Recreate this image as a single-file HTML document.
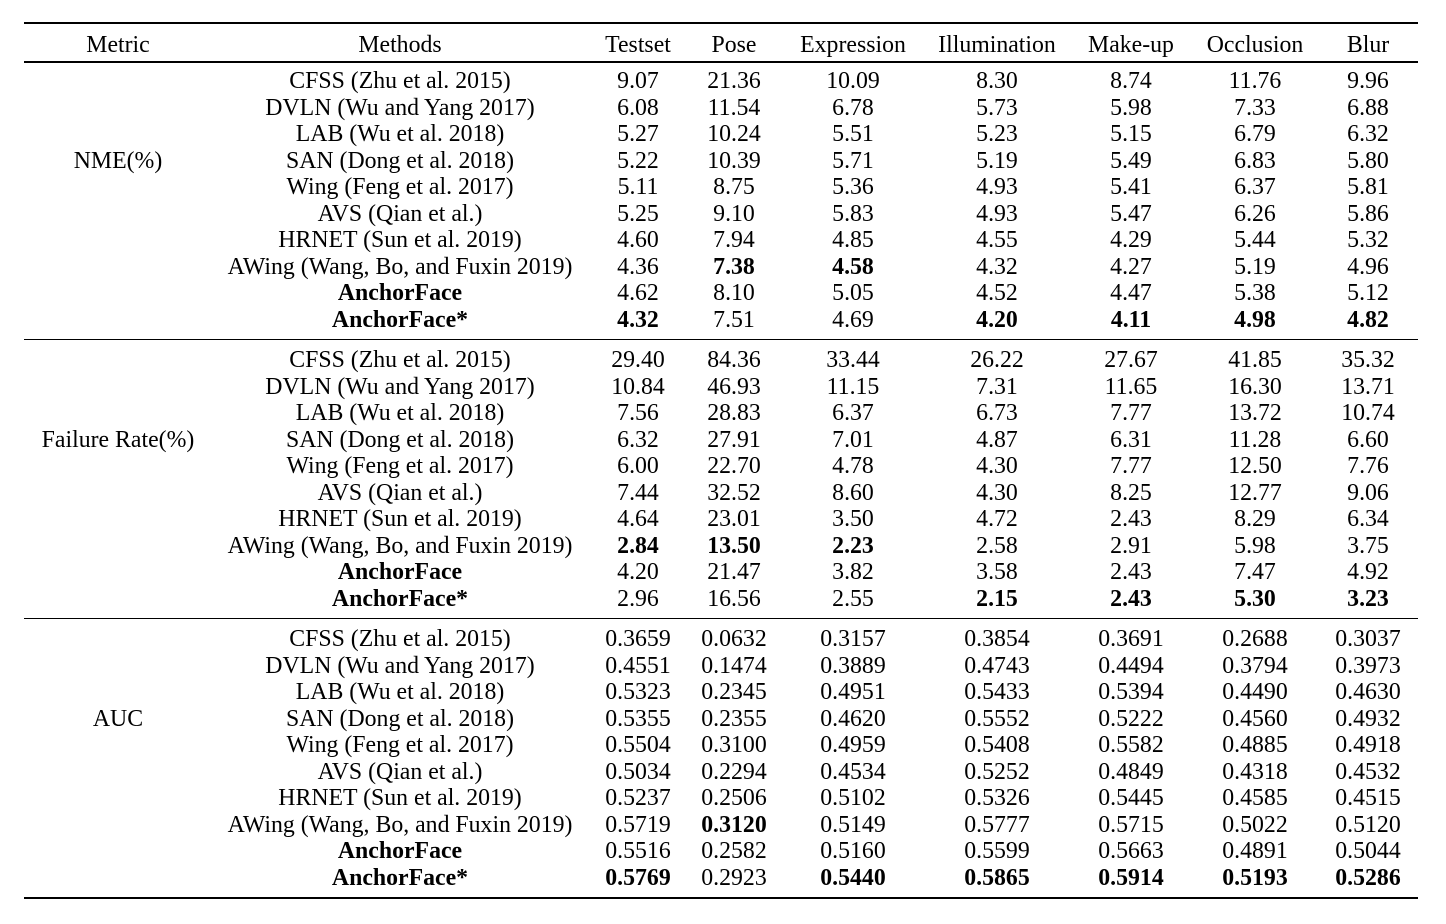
<!DOCTYPE html>
<html><head><meta charset="utf-8"><style>
body{margin:0;width:1446px;height:924px;background:#fff;position:relative;overflow:hidden;font-family:"Liberation Serif",serif;font-size:23.8px;color:#000}
.t{position:absolute;white-space:nowrap;transform:translate(-50%,-50%);line-height:1}
.r{position:absolute;left:24px;width:1394px;background:#000}
b{font-weight:bold}
</style></head><body>
<div class="r" style="top:22px;height:2px"></div>
<div class="r" style="top:61px;height:1.5px"></div>
<div class="r" style="top:339px;height:1px"></div>
<div class="r" style="top:618px;height:1px"></div>
<div class="r" style="top:897px;height:2px"></div>
<script>
const headers=["Metric","Methods","Testset","Pose","Expression","Illumination","Make-up","Occlusion","Blur"];
const colX=[118,400,638,734,853,997,1131,1255,1368];
const metrics=["NME(%)","Failure Rate(%)","AUC"];
const methods=["CFSS (Zhu et al. 2015)","DVLN (Wu and Yang 2017)","LAB (Wu et al. 2018)","SAN (Dong et al. 2018)","Wing (Feng et al. 2017)","AVS (Qian et al.)","HRNET (Sun et al. 2019)","AWing (Wang, Bo, and Fuxin 2019)","*AnchorFace","*AnchorFace*"];
const nme=[
["9.07","21.36","10.09","8.30","8.74","11.76","9.96"],
["6.08","11.54","6.78","5.73","5.98","7.33","6.88"],
["5.27","10.24","5.51","5.23","5.15","6.79","6.32"],
["5.22","10.39","5.71","5.19","5.49","6.83","5.80"],
["5.11","8.75","5.36","4.93","5.41","6.37","5.81"],
["5.25","9.10","5.83","4.93","5.47","6.26","5.86"],
["4.60","7.94","4.85","4.55","4.29","5.44","5.32"],
["4.36","*7.38","*4.58","4.32","4.27","5.19","4.96"],
["4.62","8.10","5.05","4.52","4.47","5.38","5.12"],
["*4.32","7.51","4.69","*4.20","*4.11","*4.98","*4.82"]];
const fr=[
["29.40","84.36","33.44","26.22","27.67","41.85","35.32"],
["10.84","46.93","11.15","7.31","11.65","16.30","13.71"],
["7.56","28.83","6.37","6.73","7.77","13.72","10.74"],
["6.32","27.91","7.01","4.87","6.31","11.28","6.60"],
["6.00","22.70","4.78","4.30","7.77","12.50","7.76"],
["7.44","32.52","8.60","4.30","8.25","12.77","9.06"],
["4.64","23.01","3.50","4.72","2.43","8.29","6.34"],
["*2.84","*13.50","*2.23","2.58","2.91","5.98","3.75"],
["4.20","21.47","3.82","3.58","2.43","7.47","4.92"],
["2.96","16.56","2.55","*2.15","*2.43","*5.30","*3.23"]];
const auc=[
["0.3659","0.0632","0.3157","0.3854","0.3691","0.2688","0.3037"],
["0.4551","0.1474","0.3889","0.4743","0.4494","0.3794","0.3973"],
["0.5323","0.2345","0.4951","0.5433","0.5394","0.4490","0.4630"],
["0.5355","0.2355","0.4620","0.5552","0.5222","0.4560","0.4932"],
["0.5504","0.3100","0.4959","0.5408","0.5582","0.4885","0.4918"],
["0.5034","0.2294","0.4534","0.5252","0.4849","0.4318","0.4532"],
["0.5237","0.2506","0.5102","0.5326","0.5445","0.4585","0.4515"],
["0.5719","*0.3120","0.5149","0.5777","0.5715","0.5022","0.5120"],
["0.5516","0.2582","0.5160","0.5599","0.5663","0.4891","0.5044"],
["*0.5769","0.2923","*0.5440","*0.5865","*0.5914","*0.5193","*0.5286"]];
const sections=[nme,fr,auc];
const secTop=[82,361,640];
const rowH=26.56;
function put(txt,x,y,name){
  const d=document.createElement('div');d.className='t';
  if(txt[0]==='*'){const b=document.createElement('b');b.textContent=txt.slice(1);d.appendChild(b);}else d.textContent=txt;
  d.style.left=x+'px';d.style.top=y+'px';
  
  
  document.body.appendChild(d);
}
headers.forEach((h,i)=>put(h,colX[i],46,'header-'+h.toLowerCase()));
sections.forEach((sec,s)=>{
  put(metrics[s],colX[0],secTop[s]+3*rowH,'metric-label');
  sec.forEach((row,r)=>{
    const y=secTop[s]+r*rowH;
    put(methods[r],colX[1],y,'method-name');
    row.forEach((v,c)=>put(v,colX[c+2],y,'cell-value'));
  });
});
</script>
</body></html>
